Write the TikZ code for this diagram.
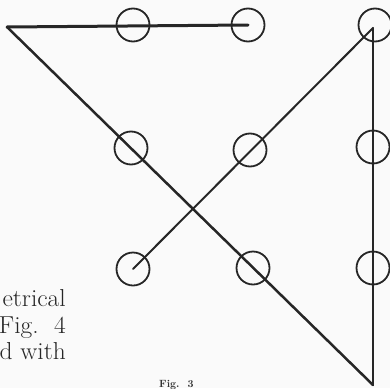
\documentclass[tikz,border=0pt]{standalone}
\usepackage{fontspec}
\newfontfamily\widefont{Latin Modern Roman}[FakeStretch=1.04]
\begin{document}
\begin{tikzpicture}[x=1pt,y=-1pt,
  ink/.style={draw=black!85, line cap=round},
  ring/.style={circle, draw=black!85, line width=1.8pt, minimum size=33pt, inner sep=0pt},
  body/.style={font=\widefont\fontsize{24.5}{28}\selectfont, text=black!85, inner sep=0pt, anchor=base east},
  figlabel/.style={font=\fontsize{10.5}{12}\selectfont\bfseries, text=black!80, inner sep=0pt, anchor=base west}]
\fill[black!2] (0,0) rectangle (390,388);
\useasboundingbox (0,0) rectangle (390,388);
% coordinates of line ends
\coordinate (L) at (7,27);
\coordinate (A) at (373,28);
\coordinate (B) at (373,385);
% circles
\node[ring] (c11) at (133,25) {};
\node[ring] (c12) at (248,25) {};
\node[ring] (c13) at (375,25) {};
\node[ring] (c21) at (131,148) {};
\node[ring] (c22) at (250,150) {};
\node[ring] (c23) at (373,147) {};
\node[ring] (c31) at (133,269) {};
\node[ring] (c32) at (253,268) {};
\node[ring] (c33) at (373,268) {};
% lines
\draw[ink, line width=3pt] (L) -- (c12.center);
\draw[ink, line width=2.5pt] (L) -- (B);
\draw[ink, line width=2.5pt] (A) -- (B);
\draw[ink, line width=2pt] (A) -- (c31.center);
% text
\node[body] (t1) at (66,306) {etrical};
\node[body] (t2) at (66,333) {Fig.\ \ 4};
\node[body] (t3) at (66,359) {d with};
\node[figlabel] (f3) at (159,387) {Fig.\ \ 3};
\end{tikzpicture}
\end{document}
